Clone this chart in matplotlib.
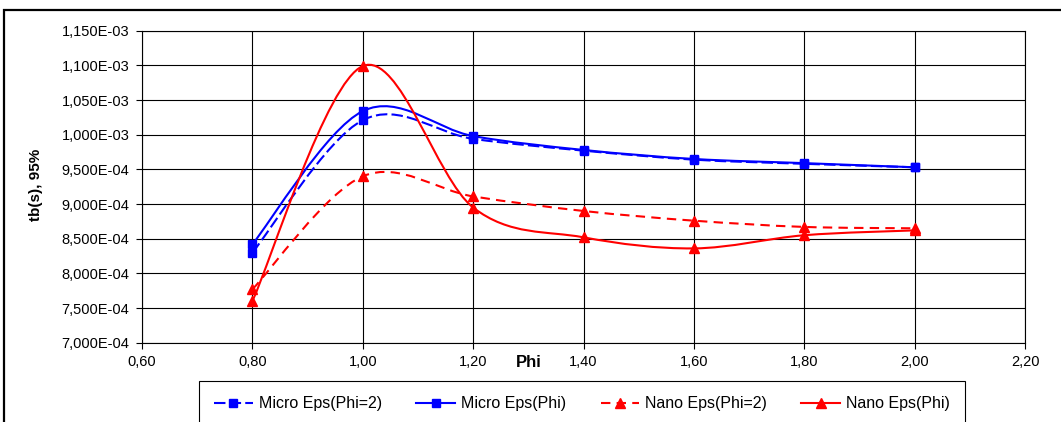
import numpy as np
import matplotlib
matplotlib.use("Agg")
import matplotlib.pyplot as plt
from matplotlib.path import Path
from matplotlib.patches import PathPatch, Rectangle
from matplotlib.lines import Line2D
from matplotlib.ticker import FuncFormatter, MultipleLocator

plt.rcParams['font.family'] = 'Liberation Sans'
plt.rcParams['font.size'] = 10

# data (tb in seconds)
phi = [0.80, 1.00, 1.20, 1.40, 1.60, 1.80, 2.00]
micro_phi2 = [8.30e-4, 1.021e-3, 9.94e-4, 9.77e-4, 9.64e-4, 9.58e-4, 9.53e-4]
micro_phi = [8.42e-4, 1.034e-3, 9.98e-4, 9.78e-4, 9.65e-4, 9.59e-4, 9.53e-4]
nano_phi2 = [7.77e-4, 9.40e-4, 9.11e-4, 8.90e-4, 8.76e-4, 8.67e-4, 8.65e-4]
nano_phi = [7.60e-4, 1.099e-3, 8.95e-4, 8.52e-4, 8.36e-4, 8.55e-4, 8.62e-4]

labels = ["Micro Eps(Phi=2)", "Micro Eps(Phi)", "Nano Eps(Phi=2)", "Nano Eps(Phi)"]

BLUE = '#0000ff'
RED = '#ff0000'


def smooth_path(x, y, t=1/6):
    """Excel-like smoothed line as cubic bezier segments."""
    pts = np.column_stack([x, y])
    n = len(pts)
    verts = [pts[0]]
    codes = [Path.MOVETO]
    for i in range(n - 1):
        p0 = pts[i - 1] if i > 0 else pts[i]
        p1 = pts[i]
        p2 = pts[i + 1]
        p3 = pts[i + 2] if i + 2 < n else pts[i + 1]
        verts += [p1 + (p2 - p0) * t, p2 - (p3 - p1) * t, p2]
        codes += [Path.CURVE4] * 3
    return Path(verts, codes)


fig = plt.figure(figsize=(10.61, 4.22), dpi=100)
ax = fig.add_axes([142/1061, 1 - 342.7/422, 883/1061, 312/422])

# outer chart area border
fig.patches.append(Rectangle((4/1061, -0.1), 1.2, 1.1 - 10/422,
                             transform=fig.transFigure, fill=False,
                             edgecolor='black', lw=1.6, zorder=0))

series = [
    (micro_phi2, BLUE, (0, (5.5, 2)), 's', 5.5),
    (micro_phi, BLUE, '-', 's', 5.5),
    (nano_phi2, RED, (0, (4.5, 3)), '^', 6.5),
    (nano_phi, RED, '-', '^', 6.5),
]

handles = []
for (vals, col, ls, mk, ms), lab in zip(series, labels):
    ax.add_patch(PathPatch(smooth_path(phi, vals), fill=False, edgecolor=col,
                           lw=1.5, linestyle=ls, zorder=3))
    ax.plot(phi, vals, ls='none', marker=mk, ms=ms, color=col, zorder=4)
    handles.append(Line2D([], [], color=col, lw=1.5, ls=ls, marker=mk, ms=ms))

ax.set_xlim(0.6, 2.2)
ax.set_ylim(7.0e-4, 1.15e-3)
ax.xaxis.set_major_locator(MultipleLocator(0.2))
ax.yaxis.set_major_locator(MultipleLocator(5e-5))
ax.xaxis.set_major_formatter(FuncFormatter(lambda v, p: f"{v:.2f}".replace('.', ',')))
ax.yaxis.set_major_formatter(FuncFormatter(lambda v, p: f"{v:.3E}".replace('.', ',')))
ax.tick_params(direction='out', length=4, width=0.8, colors='black',
               labelsize=10.5, pad=5)
ax.grid(True, color='black', lw=0.8)
ax.set_axisbelow(True)
for sp in ax.spines.values():
    sp.set_color('black')
    sp.set_linewidth(0.8)

ax.set_xlabel("Phi", fontsize=12, fontweight='bold')
ax.xaxis.set_label_coords(0.438, -0.04)
ax.set_ylabel("tb(s), 95%", fontsize=11, fontweight='bold')
ax.yaxis.set_label_coords(-0.112, 0.505)

leg = fig.legend(handles, labels, loc='upper left', ncol=4,
                 bbox_to_anchor=(199/1061, 1 - 381/422), fontsize=11.5,
                 frameon=True, fancybox=False, edgecolor='black',
                 framealpha=1, borderpad=0.95, borderaxespad=0,
                 handlelength=2.4, handletextpad=0.4, columnspacing=2.15,
                 numpoints=1)
leg.get_frame().set_linewidth(0.8)

fig.savefig("out.png", dpi=100)
